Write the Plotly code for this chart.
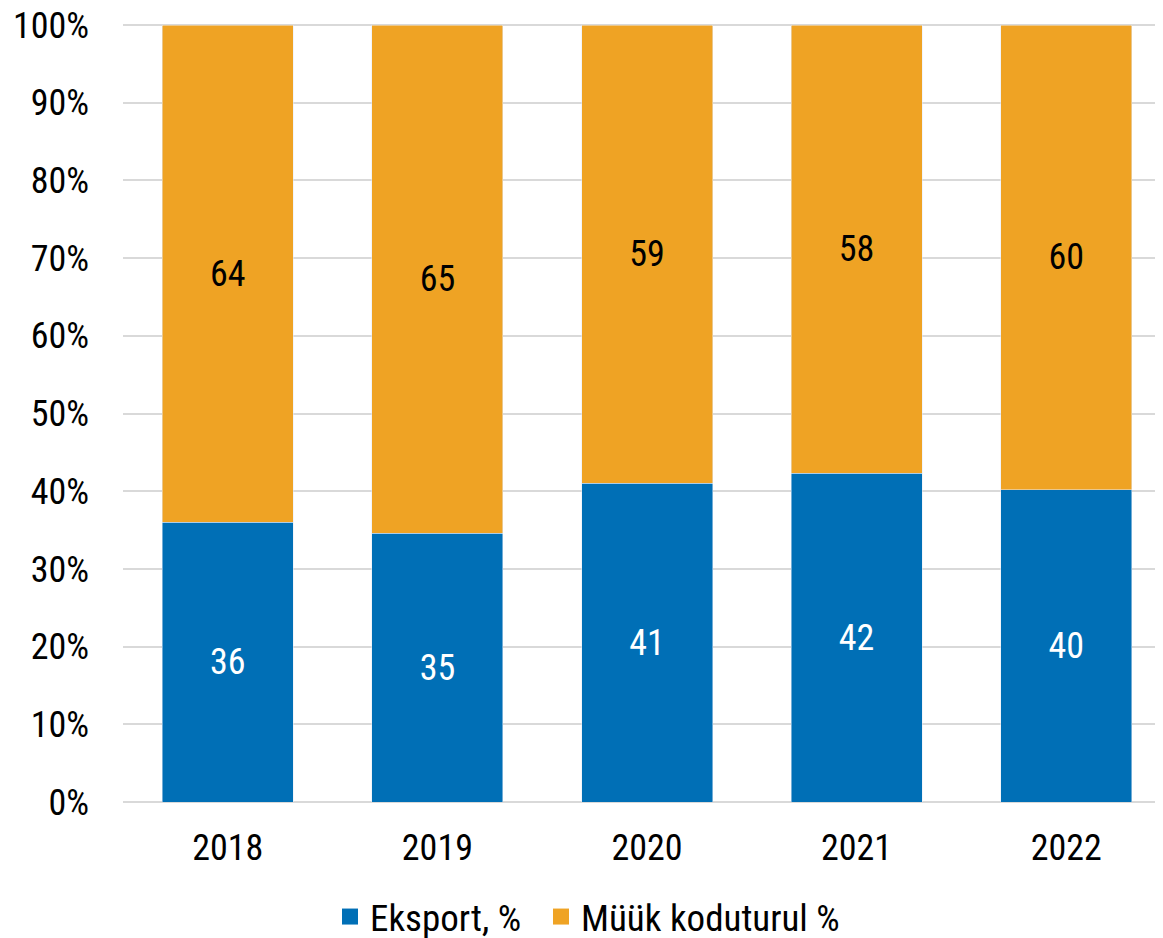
import plotly.graph_objects as go

years = ["2018", "2019", "2020", "2021", "2022"]
eksport = [36.0, 34.6, 41.0, 42.3, 40.2]
koduturg = [64.0, 65.4, 59.0, 57.7, 59.8]
eksport_labels = ["36", "35", "41", "42", "40"]
koduturg_labels = ["64", "65", "59", "58", "60"]
y_ticks = [0, 10, 20, 30, 40, 50, 60, 70, 80, 90, 100]

FONT = "Liberation Sans Narrow, Roboto Condensed, Roboto, sans-serif"
BLUE = "#006FB6"
ORANGE = "#EFA324"

fig = go.Figure()
fig.add_trace(go.Bar(
    x=years, y=eksport, name="Eksport, %", marker_color=BLUE, showlegend=False,
    text=eksport_labels, textposition="inside", insidetextanchor="middle",
    textfont=dict(color="white", size=36, family=FONT), textangle=0,
))
fig.add_trace(go.Bar(
    x=years, y=koduturg, name="Müük koduturul %", marker_color=ORANGE, showlegend=False,
    text=koduturg_labels, textposition="inside", insidetextanchor="middle",
    textfont=dict(color="black", size=36, family=FONT), textangle=0,
))
fig.add_trace(go.Scatter(x=[None], y=[None], mode="markers", name="Eksport, %",
                         marker=dict(symbol="square", size=21, color=BLUE), legend="legend"))
fig.add_trace(go.Scatter(x=[None], y=[None], mode="markers", name="Müük koduturul %",
                         marker=dict(symbol="square", size=21, color=ORANGE), legend="legend2"))

W, H = 1155, 938
leg_common = dict(orientation="h", xref="container", yref="container",
                  xanchor="left", y=1 - 909 / H, yanchor="middle",
                  font=dict(size=37, family=FONT), itemwidth=30)

fig.update_layout(
    barmode="stack",
    bargap=0.375,
    width=W, height=H,
    margin=dict(l=115, r=0, t=15, b=144, autoexpand=False),
    paper_bgcolor="white", plot_bgcolor="white",
    font=dict(family=FONT, size=36, color="black"),
    uniformtext=dict(minsize=36, mode="show"),
    legend=dict(x=322 / W, **leg_common),
    legend2=dict(x=533 / W, **leg_common),
)
fig.update_xaxes(range=[-0.5, 4.5 - 8 / 209.6], showgrid=False, showline=False, ticks="",
                 tickfont=dict(size=36, family=FONT), ticklabelstandoff=21)
fig.update_yaxes(range=[0, 100.26], tickvals=y_ticks, ticktext=[f"{v}%" for v in y_ticks],
                 showgrid=True, gridcolor="#D9D9D9", gridwidth=2, zeroline=True,
                 zerolinecolor="#D9D9D9", zerolinewidth=2, showline=False, ticks="",
                 ticklabeloverflow="allow",
                 tickfont=dict(size=36, family=FONT), ticklabelstandoff=33)

fig.write_html("out.html")
